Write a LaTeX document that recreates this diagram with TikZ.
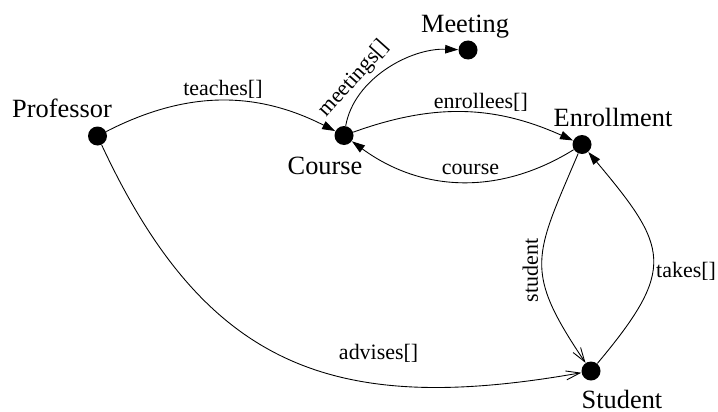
\documentclass[tikz,border=0pt]{standalone}
\usepackage{fontspec}
\setmainfont{Liberation Serif}
\usetikzlibrary{arrows.meta}

\begin{document}
\begin{tikzpicture}[
  dot/.style={circle,fill=black,inner sep=0pt,minimum size=0.38cm},
  classname/.style={font=\fontsize{15}{18}\selectfont,inner sep=0pt},
  rel/.style={font=\fontsize{12.5}{15}\selectfont,inner sep=2pt},
  link/.style={line width=0.5pt,-{Triangle[length=2.6mm,width=1.7mm]}},
  ref/.style={line width=0.5pt,-{Straight Barb[length=2.8mm,width=1.8mm]}}]
\useasboundingbox (0,0) rectangle (14.36,8.22);
% classes
\node[dot] (professor) at (1.95,5.50) {};
\node[dot] (course) at (6.88,5.51) {};
\node[dot] (meeting) at (9.36,7.22) {};
\node[dot] (enrollment) at (11.64,5.33) {};
\node[dot] (student) at (11.82,0.80) {};
\node[classname] (professortxt) at (1.24,6.06) {Professor};
\node[classname] (coursetxt) at (6.50,4.90) {Course};
\node[classname] (meetingtxt) at (9.30,7.68) {Meeting};
\node[classname] (enrollmenttxt) at (12.26,5.88) {Enrollment};
\node[classname] (studenttxt) at (12.44,0.24) {Student};
% fields
\draw[link] (professor) to[bend left=27] node[rel,pos=0.51,above=-1pt] (teaches) {teaches[]} (course);
\draw[link] (course) to[out=80,in=178,looseness=0.9] node[rel,pos=0.3,sloped,above] (meetings) {meetings[]} (meeting);
\draw[link] (course) to[bend left=22] node[rel,pos=0.58,above=-1pt] (enrollees) {enrollees[]} (enrollment);
\draw[link] (enrollment) to[bend left=34] node[rel,pos=0.46,above=2pt] (coursefld) {course} (course);
\draw[ref] (enrollment) to[out=-113,in=124,looseness=1.37] node[rel,pos=0.55,rotate=90,anchor=south] (studentfld) {student} (student);
\draw[link] (student) to[out=50,in=-50,looseness=1.5] node[rel,pos=0.42,right=0pt] (takes) {takes[]} (enrollment);
\draw[ref] (professor) to[out=-65,in=190,looseness=1.2] node[rel,pos=0.68,above=10pt] (advises) {advises[]} (student);
\end{tikzpicture}
\end{document}
